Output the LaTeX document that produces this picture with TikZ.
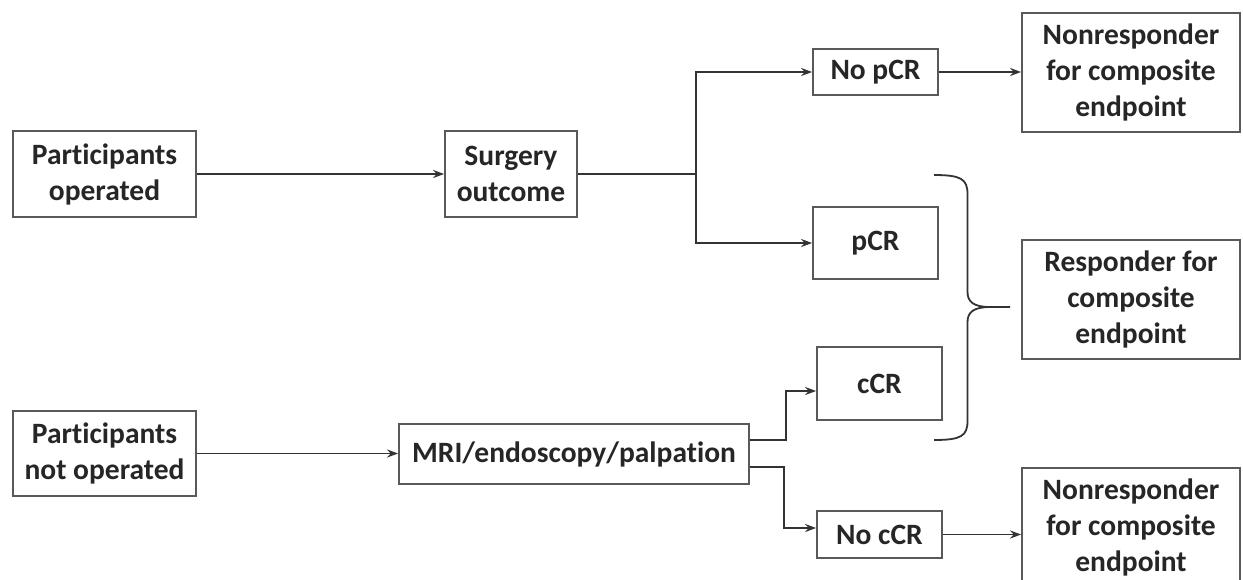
\documentclass[tikz,border=0pt]{standalone}
\usepackage{fontspec}
\setmainfont{Carlito}[Ligatures=NoCommon]
\usetikzlibrary{arrows.meta}
\tikzset{
  box/.style={draw=black!65, line width=0.9pt, fill=white, align=center, inner sep=0pt,
    font=\fontsize{14.75}{18}\selectfont\bfseries, text=black!85},
  line/.style={draw=black!80, line width=0.9pt},
  link/.style={line, -{Stealth[length=5.5pt,width=4pt]}},
}
\begin{document}
\begin{tikzpicture}[x=0.5pt,y=-0.5pt]
			%%%%% START %%%%%
			
			\fill[white] (0,0) rectangle (1243,579);
			\useasboundingbox (0,0) rectangle (1243,579);
			
			\node[box, minimum width=91.5pt, minimum height=43pt] (op) at (104.5,174) {Participants\\operated};
			\node[box, minimum width=66pt, minimum height=43pt] (surg) at (511,174) {Surgery\\outcome};
			\node[box, minimum width=62.5pt, minimum height=23pt] (nopcr) at (875.5,72) {No pCR};
			\node[box, minimum width=109pt, minimum height=59.5pt] (nrtop) at (1131,72.5) {Nonresponder\\for composite\\endpoint};
			\node[box, minimum width=62.5pt, minimum height=36pt] (pcr) at (875.5,243) {pCR};
			\node[box, minimum width=62.5pt, minimum height=36.5pt] (ccr) at (879.5,383.5) {cCR};
			\node[box, minimum width=109pt, minimum height=59.5pt] (resp) at (1131,299.5) {Responder for\\composite\\endpoint};
			\node[box, minimum width=91.5pt, minimum height=42.5pt] (nop) at (104.5,453.5) {Participants\\not operated};
			\node[box, minimum width=175pt, minimum height=30pt] (mri) at (574,454) {MRI/endoscopy/palpation};
			\node[box, minimum width=62.5pt, minimum height=23.5pt] (noccr) at (879.5,534.5) {No cCR};
			\node[box, minimum width=109pt, minimum height=59.5pt] (nrbot) at (1131,527.5) {Nonresponder\\for composite\\endpoint};
			
			\coordinate (split) at (696,174);
			\coordinate (upturn) at (786,440);
			\coordinate (downturn) at (784,467);
			
			\draw[link] (op) -- (surg);
			\draw[line] (surg) -- (split);
			\draw[link] (split) |- (nopcr);
			\draw[link] (split) |- (pcr);
			\draw[link] (nopcr) -- (nopcr -| nrtop.west);
			
			\draw[link] (nop.east) -- (nop.east -| mri.west);
			\draw[link] (upturn -| mri.east) -- (upturn) |- ([yshift=-3.75pt]ccr.west);
			\draw[link] (downturn -| mri.east) -- (downturn) |- ([yshift=3.25pt]noccr.west);
			\draw[link] (noccr) -- (noccr -| nrbot.west);
			
			\draw[line] (934,175) .. controls (961,175) and (967.5,179) .. (967.5,194) -- (967.5,292)
			  .. controls (967.5,302) and (974,307) .. (990,307) -- (1010,307);
			\draw[line] (934,440) .. controls (961,440) and (967.5,436) .. (967.5,421) -- (967.5,322)
			  .. controls (967.5,312) and (974,307) .. (990,307);
			
			%%%%% END %%%%%
\end{tikzpicture}
\end{document}
